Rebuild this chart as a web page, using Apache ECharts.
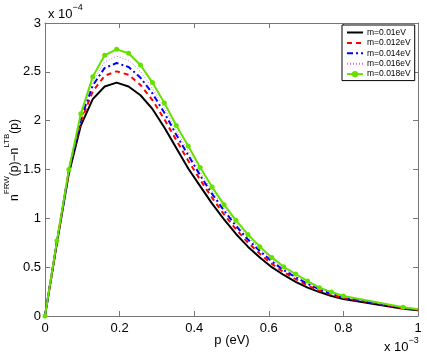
<!DOCTYPE html>
<html>
<head>
<meta charset="utf-8">
<script src="https://cdn.jsdelivr.net/npm/echarts@6/dist/echarts.min.js"></script>
<style>
  html, body { margin: 0; padding: 0; background: #fff; }
  #chart { width: 427px; height: 355px; }
</style>
</head>
<body>
<div id="chart"></div>
<script>
// p in units of 1e-3 eV, values in units of 1e-4
const pX = [0, 0.032, 0.064, 0.096, 0.128, 0.16, 0.192, 0.224, 0.256, 0.288, 0.32, 0.352, 0.384, 0.416,
  0.448, 0.48, 0.512, 0.544, 0.576, 0.608, 0.64, 0.672, 0.704, 0.736, 0.768, 0.8, 0.96, 1.0]

const m001 = [0, 0.75, 1.46, 1.95, 2.22, 2.35, 2.39, 2.35, 2.26, 2.12, 1.93, 1.72, 1.51, 1.33,
  1.15, 0.99, 0.84, 0.71, 0.60, 0.50, 0.42, 0.35, 0.29, 0.245, 0.205, 0.174, 0.075, 0.06]
const m0012 = [0, 0.76, 1.48, 1.99, 2.30, 2.46, 2.505, 2.47, 2.365, 2.21, 2.015, 1.80, 1.59, 1.395,
  1.21, 1.04, 0.888, 0.752, 0.637, 0.534, 0.449, 0.377, 0.313, 0.26, 0.219, 0.185, 0.08, 0.063]
const m0014 = [0, 0.76, 1.49, 2.02, 2.36, 2.54, 2.59, 2.55, 2.44, 2.28, 2.08, 1.856, 1.646, 1.44,
  1.25, 1.08, 0.923, 0.784, 0.665, 0.559, 0.47, 0.397, 0.33, 0.272, 0.229, 0.192, 0.083, 0.065]
const m0016 = [0, 0.77, 1.49, 2.05, 2.40, 2.60, 2.66, 2.62, 2.505, 2.33, 2.13, 1.90, 1.69, 1.48,
  1.28, 1.11, 0.95, 0.81, 0.687, 0.579, 0.486, 0.413, 0.344, 0.28, 0.237, 0.198, 0.086, 0.066]
const m0018 = [0, 0.77, 1.50, 2.07, 2.45, 2.67, 2.73, 2.69, 2.57, 2.39, 2.18, 1.95, 1.74, 1.52,
  1.32, 1.14, 0.98, 0.835, 0.71, 0.60, 0.504, 0.43, 0.358, 0.29, 0.245, 0.205, 0.089, 0.068]

const seriesNames = ['m=0.01eV', 'm=0.012eV', 'm=0.014eV', 'm=0.016eV', 'm=0.018eV']

const axisColor = '#777'
const font = 'Liberation Sans, Arial, Helvetica, sans-serif'

function pairs(vals) {
  return pX.map((x, i) => [x, vals[i]])
}

const chart = echarts.init(document.getElementById('chart'))

const xBase = {
  type: 'value', min: 0, max: 1, interval: 0.2,
  axisLine: { show: true, onZero: false, lineStyle: { color: axisColor, width: 1 } },
  axisTick: { show: true, inside: true, length: 5, lineStyle: { color: axisColor } },
  splitLine: { show: false }
}
const yBase = {
  type: 'value', min: 0, max: 3, interval: 0.5,
  axisLine: { show: true, onZero: false, lineStyle: { color: axisColor, width: 1 } },
  axisTick: { show: true, inside: true, length: 5, lineStyle: { color: axisColor } },
  splitLine: { show: false }
}

// hide the round symbol in the legend for the plain line series
const noMark = { color: 'transparent', borderWidth: 0, opacity: 0 }

// green curve: markers everywhere except the end point at p=1
const greenData = pairs(m0018).map((d, i) =>
  i === pX.length - 1 ? { value: d, symbol: 'none' } : d)

chart.setOption({
  animation: false,
  backgroundColor: '#fff',
  grid: { left: 45, right: 9, top: 23, bottom: 39 },
  legend: {
    orient: 'vertical',
    left: 342,
    top: 25,
    backgroundColor: '#fff',
    borderColor: '#000',
    borderWidth: 1,
    padding: [3, 4, 2, 4],
    itemWidth: 16,
    itemHeight: 8,
    itemGap: 1.4,
    textStyle: { fontFamily: font, fontSize: 8.5, color: '#000', padding: [0, 0, 0, -1] },
    data: [
      { name: seriesNames[0], itemStyle: noMark },
      { name: seriesNames[1], itemStyle: noMark },
      { name: seriesNames[2], itemStyle: noMark },
      { name: seriesNames[3], itemStyle: noMark },
      { name: seriesNames[4] }
    ]
  },
  xAxis: [
    Object.assign({}, xBase, {
      position: 'bottom',
      axisLabel: { color: '#000', fontFamily: font, fontSize: 13, margin: 6,
        formatter: v => String(+v.toFixed(1)) }
    }),
    Object.assign({}, xBase, { position: 'top', axisLabel: { show: false } })
  ],
  yAxis: [
    Object.assign({}, yBase, {
      position: 'left',
      axisLabel: { color: '#000', fontFamily: font, fontSize: 13, margin: 4,
        formatter: v => String(+v.toFixed(1)) }
    }),
    Object.assign({}, yBase, { position: 'right', axisLabel: { show: false } })
  ],
  series: [
    {
      name: seriesNames[0], type: 'line', data: pairs(m001), symbol: 'none',
      lineStyle: { color: '#000', width: 2 }, itemStyle: { color: '#000' }
    },
    {
      name: seriesNames[1], type: 'line', data: pairs(m0012), symbol: 'none',
      lineStyle: { color: '#ff0000', width: 2, type: [5, 4] }, itemStyle: { color: '#ff0000' }
    },
    {
      name: seriesNames[2], type: 'line', data: pairs(m0014), symbol: 'none',
      lineStyle: { color: '#0000ff', width: 2, type: [6, 3, 2, 3] }, itemStyle: { color: '#0000ff' }
    },
    {
      name: seriesNames[3], type: 'line', data: pairs(m0016), symbol: 'none',
      lineStyle: { color: '#cc66ff', width: 1, type: [1, 2] }, itemStyle: { color: '#cc66ff' }
    },
    {
      name: seriesNames[4], type: 'line', data: greenData, symbol: 'circle', symbolSize: 5,
      showAllSymbol: true,
      lineStyle: { color: '#66e000', width: 2 }, itemStyle: { color: '#66e000' }
    }
  ],
  graphic: [
    {
      type: 'text', left: 48, top: 3,
      style: {
        text: '{a|x 10}{s|−4}',
        rich: {
          a: { fontFamily: font, fontSize: 13, color: '#000', lineHeight: 18, verticalAlign: 'bottom' },
          s: { fontFamily: font, fontSize: 9, color: '#000', lineHeight: 9, verticalAlign: 'top' }
        }
      }
    },
    {
      type: 'text', left: 384, top: 336,
      style: {
        text: '{a|x 10}{s|−3}',
        rich: {
          a: { fontFamily: font, fontSize: 13, color: '#000', lineHeight: 18, verticalAlign: 'bottom' },
          s: { fontFamily: font, fontSize: 9, color: '#000', lineHeight: 9, verticalAlign: 'top' }
        }
      }
    },
    {
      type: 'text', x: 232, y: 340,
      style: { text: 'p (eV)', fontFamily: font, fontSize: 13, fill: '#000', align: 'center', verticalAlign: 'middle' }
    },
    {
      type: 'text', x: 12, y: 160, rotation: Math.PI / 2,
      style: {
        text: '{a|n}{s|FRW}{a|(p)−n}{s|LTB}{a|(p)}',
        align: 'center', verticalAlign: 'middle',
        rich: {
          a: { fontFamily: font, fontSize: 12, color: '#000', lineHeight: 18, verticalAlign: 'bottom' },
          s: { fontFamily: font, fontSize: 8, color: '#000', lineHeight: 8, verticalAlign: 'top' }
        }
      }
    }
  ]
})
</script>
</body>
</html>
